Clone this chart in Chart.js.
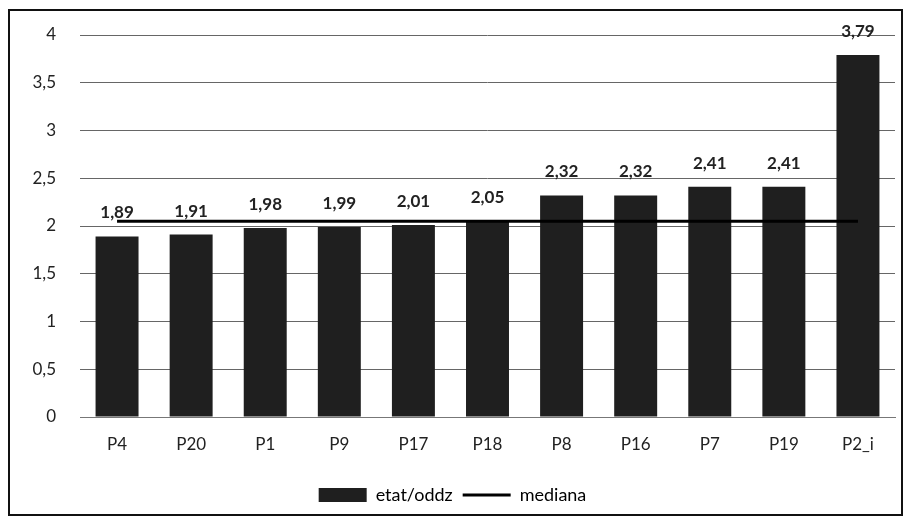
<!DOCTYPE html>
<html>
<head>
<meta charset="utf-8">
<script src="https://cdn.jsdelivr.net/npm/chart.js@4"></script>
<style>
  body { margin: 0; background: #fff; }
  #wrap { position: relative; width: 912px; height: 525px; }
  #frame { position: absolute; left: 8px; top: 9px; width: 895px; height: 507px; border: 2px solid #111; box-sizing: border-box; pointer-events: none; }
</style>
</head>
<body>
<div id="wrap">
  <canvas id="myChart" width="912" height="525"></canvas>
  <div id="frame"></div>
</div>
<script>
const labels = ['P4', 'P20', 'P1', 'P9', 'P17', 'P18', 'P8', 'P16', 'P7', 'P19', 'P2_i'];
const etatOddz = [1.89, 1.91, 1.98, 1.99, 2.01, 2.05, 2.32, 2.32, 2.41, 2.41, 3.79];
const mediana = [2.05, 2.05, 2.05, 2.05, 2.05, 2.05, 2.05, 2.05, 2.05, 2.05, 2.05];

const fmt = v => String(v).replace('.', ',');

// value labels above the bars
const barLabels = {
  id: 'barLabels',
  afterDatasetsDraw(chart) {
    const c = chart.ctx;
    const meta = chart.getDatasetMeta(0);
    c.save();
    c.font = 'bold 17px Lato, "DejaVu Sans", sans-serif';
    c.fillStyle = '#222';
    c.textAlign = 'center';
    c.textBaseline = 'bottom';
    meta.data.forEach((bar, i) => {
      c.fillText(etatOddz[i].toFixed(2).replace('.', ','), bar.x, bar.y - 15);
    });
    c.restore();
  }
};

Chart.defaults.font.family = 'Lato, "DejaVu Sans", sans-serif';
Chart.defaults.font.size = 17;
Chart.defaults.color = '#222';

const ctx = document.getElementById('myChart');
new Chart(ctx, {
  data: {
    labels: labels,
    datasets: [{
      type: 'bar',
      label: 'etat/oddz',
      data: etatOddz,
      backgroundColor: '#1f1f1f',
      barPercentage: 0.58,
      categoryPercentage: 1,
      order: 2
    }, {
      type: 'line',
      label: 'mediana',
      data: mediana,
      borderColor: '#000',
      backgroundColor: '#000',
      borderWidth: 3,
      pointRadius: 0,
      order: 1
    }]
  },
  options: {
    responsive: false,
    animation: false,
    layout: { padding: { left: 10, right: 17, top: 35, bottom: 11 } },
    plugins: {
      tooltip: { enabled: false },
      legend: {
        position: 'bottom',
        labels: {
          usePointStyle: true,
          pointStyleWidth: 48,
          boxHeight: 14,
          padding: 10,
          color: '#222',
          font: { size: 18 },
          generateLabels(chart) {
            return [{
              text: 'etat/oddz', datasetIndex: 0, pointStyle: 'rect',
              fillStyle: '#1f1f1f', strokeStyle: '#1f1f1f', lineWidth: 0
            }, {
              text: 'mediana', datasetIndex: 1, pointStyle: 'line',
              fillStyle: '#000', strokeStyle: '#000', lineWidth: 3
            }];
          }
        }
      }
    },
    scales: {
      x: {
        grid: { display: false, drawTicks: false },
        border: { color: '#777' },
        ticks: { padding: 17 },
        afterFit: s => { s.height = 59; }
      },
      y: {
        min: 0,
        max: 4,
        ticks: { stepSize: 0.5, padding: 24, callback: v => fmt(v) },
        grid: { color: '#666', drawTicks: false },
        border: { display: false },
        afterFit: s => { s.width = 70; }
      }
    }
  },
  plugins: [barLabels]
});
</script>
</body>
</html>
